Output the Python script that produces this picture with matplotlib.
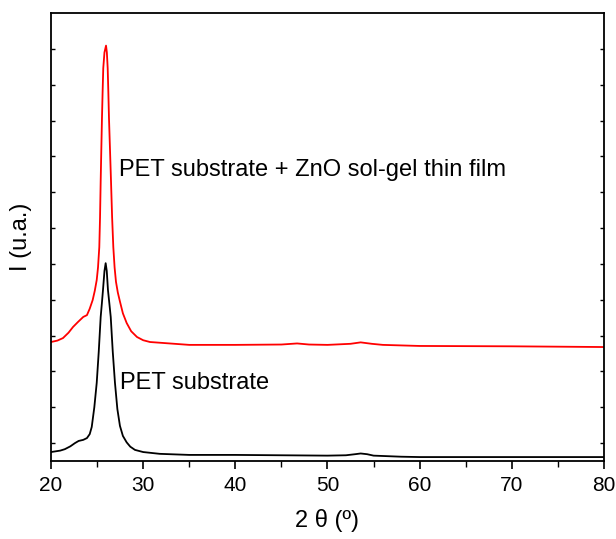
import matplotlib.pyplot as plt
import numpy as np
from matplotlib.ticker import MultipleLocator, FixedLocator, NullFormatter

plt.rcParams['font.family'] = ['Liberation Sans', 'DejaVu Sans']

# XRD patterns (2 theta in degrees, intensity in arbitrary units)
two_theta_pet = [20.0, 21.0, 21.5, 22.1, 22.6, 23.0, 23.5, 23.9, 24.2, 24.42,
                 24.7, 24.96, 25.18, 25.39, 25.52, 25.64, 25.8, 25.93, 26.05, 26.18,
                 26.33, 26.48, 26.7, 26.94, 27.2, 27.48, 27.8, 28.21, 28.6, 29.11,
                 30.0, 31.8, 35.0, 40.0, 45.0, 50.0, 52.0, 53.0, 53.6, 54.3,
                 55.0, 58.0, 60.0, 70.0, 80.0]
intensity_pet = [25, 29, 33, 41, 50, 56, 59, 64, 75, 95,
                 150, 218, 305, 402, 440, 477, 530, 552, 530, 477,
                 440, 402, 305, 218, 145, 98, 70, 52, 40, 31,
                 25, 20, 17, 17, 16, 15, 16, 19, 21, 19,
                 15, 12, 11, 11, 11]

two_theta_zno = [20.0, 20.7, 21.3, 21.9, 22.39, 22.93, 23.5, 23.9, 24.2, 24.52,
                 24.75, 24.96, 25.1, 25.24, 25.32, 25.39, 25.46, 25.53, 25.6, 25.67,
                 25.8, 25.97, 26.06, 26.15, 26.22, 26.29, 26.4, 26.51, 26.63, 26.76,
                 26.9, 27.05, 27.25, 27.48, 27.8, 28.21, 28.7, 29.33, 30.0, 30.74,
                 35.0, 40.0, 45.0, 46.7, 48.0, 50.0, 52.5, 53.6, 54.8, 56.0,
                 60.0, 70.0, 80.0]
intensity_zno = [332, 336, 343, 358, 374, 388, 402, 407, 425, 449,
                 475, 505, 540, 597, 680, 781, 870, 957, 1030, 1096,
                 1140, 1159, 1140, 1096, 1030, 957, 870, 781, 680, 597,
                 540, 500, 470, 445, 412, 385, 362, 346, 337, 332,
                 324, 324, 325, 328, 325, 324, 327, 331, 327, 324,
                 321, 320, 318]

fig = plt.figure(figsize=(6.16, 5.39), dpi=100)
ax = fig.add_axes([0.0828, 0.1447, 0.8977, 0.8312])

ax.plot(two_theta_pet, intensity_pet, color='black', lw=1.3)
ax.plot(two_theta_zno, intensity_zno, color='red', lw=1.3)

ax.set_xlim(20, 80)
ax.set_ylim(0, 1250)

ax.text(27.4, 812, 'PET substrate + ZnO sol-gel thin film', fontsize=17, va='center', ha='left')
ax.text(27.5, 218, 'PET substrate', fontsize=17, va='center', ha='left')

ax.xaxis.set_major_locator(MultipleLocator(10))
ax.xaxis.set_minor_locator(MultipleLocator(5))
ax.yaxis.set_major_locator(FixedLocator(np.arange(50, 1250, 100)))
ax.yaxis.set_major_formatter(NullFormatter())

ax.tick_params(axis='x', which='major', direction='out', length=6, width=1.2, labelsize=15, pad=5)
ax.tick_params(axis='x', which='minor', direction='out', length=4, width=1.0)
ax.tick_params(axis='y', which='major', direction='in', length=3, width=1.0, right=True)

for s in ax.spines.values():
    s.set_linewidth(1.3)

ax.set_xlabel('2 θ (º)', fontsize=17, labelpad=10)
ax.set_ylabel('I (u.a.)', fontsize=17, labelpad=10)

fig.savefig('out.png', dpi=100)
